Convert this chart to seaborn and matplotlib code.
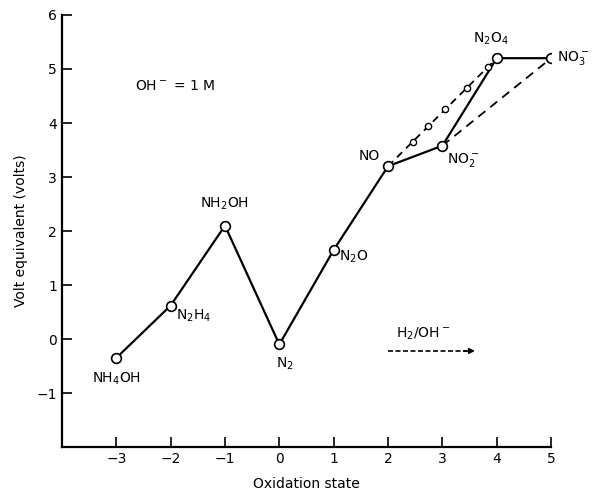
import pandas as pd
import seaborn as sns
import matplotlib.pyplot as plt

# Frost diagram for nitrogen, basic solution
species = ['NH$_4$OH', 'N$_2$H$_4$', 'NH$_2$OH', 'N$_2$', 'N$_2$O', 'NO', 'NO$_2^-$', 'N$_2$O$_4$', 'NO$_3^-$']
ox_state = [-3, -2, -1, 0, 1, 2, 3, 4, 5]
volt_eq = [-0.35, 0.62, 2.1, -0.1, 1.65, 3.2, 3.58, 5.2, 5.2]

# dashed route NO2- -> NO3-
dash_x = [3, 5]
dash_y = [3.58, 5.2]

# dashed route with small circles NO -> N2O4
dot_x = [2, 2.45, 2.74, 3.05, 3.45, 3.83, 4]
dot_y = [3.2, 3.65, 3.94, 4.25, 4.65, 5.03, 5.2]

df = pd.DataFrame({'ox': ox_state, 'v': volt_eq, 'name': species})

sns.set_theme(style='ticks')
plt.rcParams['font.family'] = ['DejaVu Sans']
plt.rcParams['text.color'] = 'black'
plt.rcParams['axes.labelcolor'] = 'black'
plt.rcParams['xtick.color'] = 'black'
plt.rcParams['ytick.color'] = 'black'

fig = plt.figure(figsize=(6.01, 4.99), dpi=100)
ax = fig.add_axes([0.103, 0.104, 0.814, 0.866])

sns.lineplot(data=df, x='ox', y='v', sort=False, color='black', lw=1.6,
             marker='o', markersize=7, markerfacecolor='white',
             markeredgecolor='black', markeredgewidth=1.2, ax=ax, zorder=3)
sns.lineplot(x=dash_x, y=dash_y, color='black', lw=1.3, dashes=(5, 3.5),
             ax=ax, zorder=2)
ax.plot(dot_x[1:-1], dot_y[1:-1], 'o', ms=4.5, mfc='white', mec='black', mew=1, zorder=3)
ax.plot(dot_x, dot_y, color='black', lw=1.3, ls=(0, (4, 3)), zorder=2)

# labels (offsets in points)
offsets = {
    'NH$_4$OH': (0, -15, 'center', 'center'),
    'N$_2$H$_4$': (4, -7, 'left', 'center'),
    'NH$_2$OH': (0, 16, 'center', 'center'),
    'N$_2$': (4, -14, 'center', 'center'),
    'N$_2$O': (4, -5, 'left', 'center'),
    'NO': (-6, 7, 'right', 'center'),
    'NO$_2^-$': (3, -10, 'left', 'center'),
    'N$_2$O$_4$': (-4, 14, 'center', 'center'),
    'NO$_3^-$': (4, 0, 'left', 'center'),
}
for x, y, name in zip(ox_state, volt_eq, species):
    dx, dy, ha, va = offsets[name]
    ax.annotate(name, (x, y), xytext=(dx, dy), textcoords='offset points',
                ha=ha, va=va, fontsize=10)

ax.text(-2.65, 4.68, 'OH$^-$ = 1 M', fontsize=10, va='center')

# key for the dashed line
ax.text(2.65, 0.1, 'H$_2$/OH$^-$', fontsize=10, ha='center', va='center')
ax.plot([2.0, 3.45], [-0.22, -0.22], color='black', lw=1.2, ls=(0, (3, 1.5)))
ax.annotate('', xy=(3.65, -0.22), xytext=(3.35, -0.22),
            arrowprops=dict(arrowstyle='-|>', color='black', lw=1.2,
                            mutation_scale=8))

ax.set_xlim(-4, 5)
ax.set_ylim(-2, 6)
ax.set_xticks(range(-3, 6))
ax.set_yticks(range(-1, 7))
ax.set_xticklabels(['\u22123', '\u22122', '\u22121', '0', '1', '2', '3', '4', '5'])
ax.set_yticklabels(['\u22121', '0', '1', '2', '3', '4', '5', '6'])
ax.tick_params(direction='in', length=7, width=1.2, labelsize=10, color='black')
ax.set_xlabel('Oxidation state', fontsize=10, labelpad=8)
ax.set_ylabel('Volt equivalent (volts)', fontsize=10, labelpad=6)
sns.despine(ax=ax)
for s in ['left', 'bottom']:
    ax.spines[s].set_linewidth(1.6)
    ax.spines[s].set_color('black')

fig.savefig('out.png', dpi=100)
